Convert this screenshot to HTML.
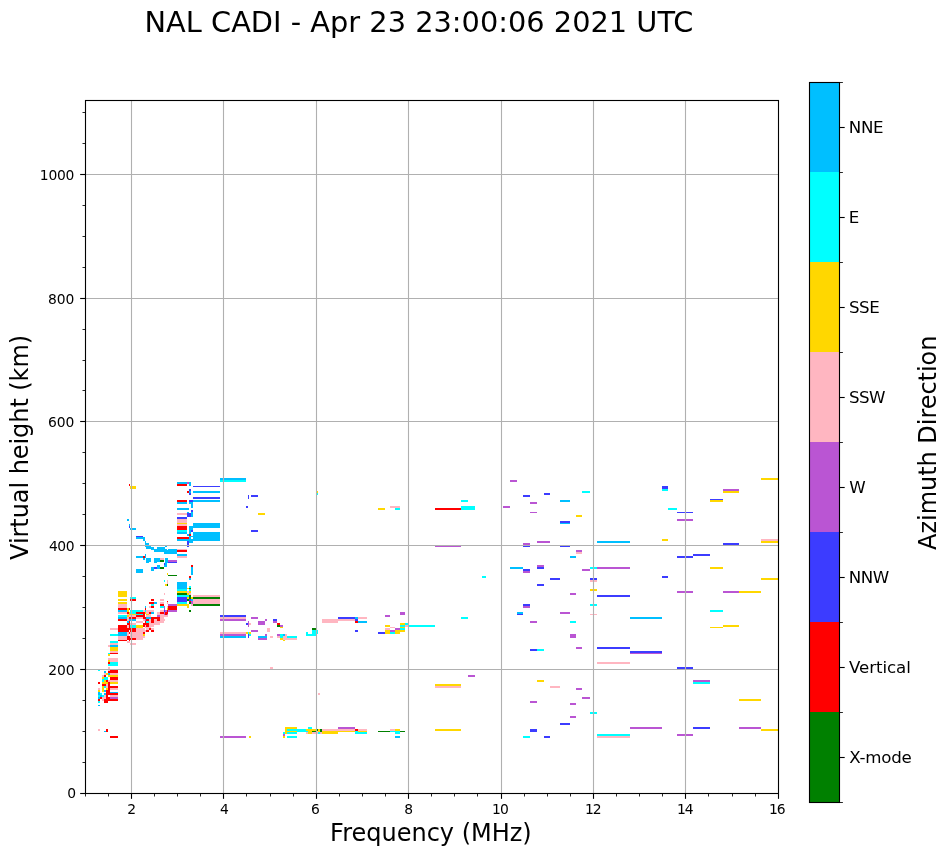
<!DOCTYPE html>
<html lang="en"><head><meta charset="utf-8"><title>NAL CADI - Apr 23 23:00:06 2021 UTC</title>
<style>
html,body{margin:0;padding:0;background:#fff;}
body{width:951px;height:856px;overflow:hidden;}
svg{display:block;}
text{font-family:"DejaVu Sans", "Liberation Sans", sans-serif;fill:#000;}
.tk{font-size:13.889px;}
.cb{font-size:16.667px;}
.lb{font-size:24px;}
.tt{font-size:28.8px;}
</style></head><body>
<svg width="951" height="856" viewBox="0 0 951 856">
<rect x="0" y="0" width="951" height="856" fill="#fff"/>
<g id="data" shape-rendering="crispEdges">
<rect x="98" y="669" width="2" height="2" fill="#00ffff"/>
<rect x="108" y="669" width="2" height="2" fill="#ffb6c1"/>
<rect x="110" y="669" width="8" height="2" fill="#ff0000"/>
<rect x="104" y="671" width="2" height="2" fill="#00bfff"/>
<rect x="108" y="671" width="10" height="2" fill="#ff0000"/>
<rect x="104" y="673" width="2" height="2" fill="#ffb6c1"/>
<rect x="106" y="673" width="2" height="2" fill="#ffd700"/>
<rect x="108" y="673" width="2" height="2" fill="#00bfff"/>
<rect x="110" y="673" width="8" height="2" fill="#ffb6c1"/>
<rect x="102" y="675" width="2" height="2" fill="#ffb6c1"/>
<rect x="104" y="675" width="2" height="2" fill="#ff0000"/>
<rect x="108" y="675" width="10" height="2" fill="#ffd700"/>
<rect x="102" y="677" width="2" height="2" fill="#ffd700"/>
<rect x="104" y="677" width="4" height="2" fill="#00ffff"/>
<rect x="110" y="677" width="8" height="2" fill="#ff0000"/>
<rect x="102" y="679" width="6" height="1" fill="#00ffff"/>
<rect x="110" y="679" width="8" height="1" fill="#ff0000"/>
<rect x="102" y="680" width="2" height="2" fill="#00ffff"/>
<rect x="104" y="680" width="2" height="2" fill="#ffd700"/>
<rect x="106" y="680" width="2" height="2" fill="#ff0000"/>
<rect x="108" y="680" width="10" height="2" fill="#ffb6c1"/>
<rect x="98" y="682" width="2" height="2" fill="#ff0000"/>
<rect x="102" y="682" width="6" height="2" fill="#ffd700"/>
<rect x="108" y="682" width="2" height="2" fill="#ff0000"/>
<rect x="110" y="682" width="8" height="2" fill="#ffd700"/>
<rect x="102" y="684" width="4" height="2" fill="#ff0000"/>
<rect x="106" y="684" width="2" height="2" fill="#ffb6c1"/>
<rect x="108" y="684" width="2" height="2" fill="#ff0000"/>
<rect x="102" y="686" width="2" height="2" fill="#ffd700"/>
<rect x="104" y="686" width="2" height="2" fill="#00ffff"/>
<rect x="106" y="686" width="2" height="2" fill="#ffb6c1"/>
<rect x="108" y="686" width="10" height="2" fill="#ff0000"/>
<rect x="98" y="688" width="2" height="2" fill="#ffb6c1"/>
<rect x="102" y="688" width="2" height="2" fill="#ffd700"/>
<rect x="106" y="688" width="2" height="2" fill="#ffd700"/>
<rect x="108" y="688" width="2" height="2" fill="#ff0000"/>
<rect x="110" y="688" width="8" height="2" fill="#ffb6c1"/>
<rect x="98" y="690" width="2" height="2" fill="#ffd700"/>
<rect x="102" y="690" width="2" height="2" fill="#ffd700"/>
<rect x="104" y="690" width="2" height="2" fill="#00bfff"/>
<rect x="106" y="690" width="4" height="2" fill="#ff0000"/>
<rect x="98" y="692" width="2" height="1" fill="#00bfff"/>
<rect x="106" y="692" width="4" height="1" fill="#ff0000"/>
<rect x="110" y="692" width="8" height="1" fill="#00bfff"/>
<rect x="98" y="693" width="2" height="2" fill="#00bfff"/>
<rect x="100" y="693" width="2" height="2" fill="#00ffff"/>
<rect x="104" y="693" width="2" height="2" fill="#00bfff"/>
<rect x="106" y="693" width="12" height="2" fill="#ff0000"/>
<rect x="98" y="695" width="2" height="2" fill="#00ffff"/>
<rect x="100" y="695" width="2" height="2" fill="#00bfff"/>
<rect x="102" y="695" width="2" height="2" fill="#00ffff"/>
<rect x="104" y="695" width="2" height="2" fill="#ffb6c1"/>
<rect x="106" y="695" width="2" height="2" fill="#ff0000"/>
<rect x="110" y="695" width="8" height="2" fill="#ffb6c1"/>
<rect x="98" y="697" width="2" height="2" fill="#00bfff"/>
<rect x="100" y="697" width="2" height="2" fill="#ff0000"/>
<rect x="102" y="697" width="4" height="2" fill="#ffb6c1"/>
<rect x="106" y="697" width="4" height="2" fill="#ff0000"/>
<rect x="110" y="697" width="8" height="2" fill="#ba55d3"/>
<rect x="98" y="699" width="2" height="2" fill="#ff0000"/>
<rect x="102" y="699" width="2" height="2" fill="#ffb6c1"/>
<rect x="104" y="699" width="14" height="2" fill="#ff0000"/>
<rect x="98" y="701" width="2" height="2" fill="#00ffff"/>
<rect x="104" y="701" width="4" height="2" fill="#ff0000"/>
<rect x="98" y="705" width="2" height="1" fill="#00bfff"/>
<rect x="118" y="632" width="9" height="4" fill="#00bfff"/>
<rect x="110" y="634" width="8" height="2" fill="#00ffff"/>
<rect x="118" y="636" width="9" height="4" fill="#ffb6c1"/>
<rect x="118" y="640" width="9" height="1" fill="#ff0000"/>
<rect x="110" y="641" width="8" height="2" fill="#00ffff"/>
<rect x="110" y="643" width="8" height="2" fill="#ffb6c1"/>
<rect x="108" y="645" width="2" height="2" fill="#ffb6c1"/>
<rect x="110" y="645" width="8" height="2" fill="#00bfff"/>
<rect x="110" y="647" width="8" height="4" fill="#ffd700"/>
<rect x="110" y="651" width="8" height="2" fill="#ffb6c1"/>
<rect x="110" y="653" width="8" height="1" fill="#ff0000"/>
<rect x="108" y="653" width="2" height="1" fill="#00ffff"/>
<rect x="108" y="654" width="2" height="2" fill="#ffd700"/>
<rect x="108" y="658" width="10" height="2" fill="#ffb6c1"/>
<rect x="108" y="660" width="2" height="2" fill="#ffd700"/>
<rect x="110" y="660" width="8" height="2" fill="#ffb6c1"/>
<rect x="108" y="662" width="2" height="2" fill="#ff0000"/>
<rect x="110" y="662" width="8" height="2" fill="#00ffff"/>
<rect x="108" y="664" width="10" height="2" fill="#00ffff"/>
<rect x="108" y="667" width="2" height="2" fill="#ffb6c1"/>
<rect x="118" y="591" width="9" height="6" fill="#ffd700"/>
<rect x="118" y="599" width="9" height="2" fill="#ffd700"/>
<rect x="118" y="602" width="9" height="2" fill="#ffd700"/>
<rect x="118" y="604" width="9" height="4" fill="#ffb6c1"/>
<rect x="118" y="608" width="9" height="2" fill="#ff0000"/>
<rect x="118" y="610" width="9" height="2" fill="#00bfff"/>
<rect x="118" y="612" width="9" height="2" fill="#ffb6c1"/>
<rect x="118" y="615" width="9" height="2" fill="#00ffff"/>
<rect x="118" y="617" width="9" height="2" fill="#00bfff"/>
<rect x="118" y="619" width="9" height="2" fill="#ff0000"/>
<rect x="118" y="625" width="9" height="7" fill="#ff0000"/>
<rect x="110" y="628" width="8" height="2" fill="#ffb6c1"/>
<rect x="130" y="597" width="6" height="2" fill="#00ffff"/>
<rect x="130" y="599" width="6" height="2" fill="#ff0000"/>
<rect x="151" y="599" width="3" height="2" fill="#ff0000"/>
<rect x="149" y="602" width="5" height="2" fill="#ff0000"/>
<rect x="151" y="604" width="3" height="2" fill="#00ffff"/>
<rect x="149" y="606" width="2" height="2" fill="#ffb6c1"/>
<rect x="151" y="606" width="3" height="2" fill="#ff0000"/>
<rect x="145" y="606" width="1" height="2" fill="#00bfff"/>
<rect x="145" y="608" width="1" height="2" fill="#ff0000"/>
<rect x="127" y="608" width="2" height="4" fill="#ffd700"/>
<rect x="129" y="608" width="1" height="2" fill="#ff0000"/>
<rect x="130" y="610" width="13" height="2" fill="#00ffff"/>
<rect x="143" y="610" width="2" height="2" fill="#ffb6c1"/>
<rect x="145" y="610" width="1" height="2" fill="#00ffff"/>
<rect x="146" y="610" width="8" height="2" fill="#ffb6c1"/>
<rect x="127" y="612" width="2" height="2" fill="#ff0000"/>
<rect x="129" y="612" width="1" height="2" fill="#ffd700"/>
<rect x="130" y="612" width="6" height="2" fill="#00ffff"/>
<rect x="136" y="612" width="9" height="2" fill="#ff0000"/>
<rect x="145" y="612" width="1" height="2" fill="#ffd700"/>
<rect x="146" y="612" width="3" height="2" fill="#ffb6c1"/>
<rect x="149" y="612" width="2" height="2" fill="#ff0000"/>
<rect x="151" y="612" width="3" height="2" fill="#00bfff"/>
<rect x="127" y="614" width="2" height="1" fill="#ffb6c1"/>
<rect x="129" y="614" width="7" height="1" fill="#ffd700"/>
<rect x="136" y="614" width="7" height="1" fill="#00ffff"/>
<rect x="143" y="614" width="2" height="1" fill="#ff0000"/>
<rect x="146" y="614" width="3" height="1" fill="#ffd700"/>
<rect x="149" y="614" width="2" height="1" fill="#ffb6c1"/>
<rect x="177" y="582" width="10" height="7" fill="#00bfff"/>
<rect x="177" y="589" width="10" height="2" fill="#00ffff"/>
<rect x="177" y="591" width="10" height="2" fill="#ffd700"/>
<rect x="177" y="593" width="10" height="2" fill="#008000"/>
<rect x="177" y="595" width="10" height="2" fill="#00ffff"/>
<rect x="177" y="597" width="10" height="5" fill="#3c3cff"/>
<rect x="177" y="602" width="10" height="2" fill="#00ffff"/>
<rect x="177" y="604" width="10" height="2" fill="#ffd700"/>
<rect x="164" y="593" width="1" height="2" fill="#ffb6c1"/>
<rect x="160" y="599" width="4" height="2" fill="#ffb6c1"/>
<rect x="167" y="601" width="1" height="1" fill="#ff0000"/>
<rect x="154" y="602" width="3" height="2" fill="#00bfff"/>
<rect x="160" y="602" width="4" height="2" fill="#ffb6c1"/>
<rect x="167" y="602" width="1" height="2" fill="#ffb6c1"/>
<rect x="160" y="604" width="4" height="2" fill="#ff0000"/>
<rect x="168" y="604" width="9" height="2" fill="#ba55d3"/>
<rect x="160" y="606" width="4" height="2" fill="#00ffff"/>
<rect x="164" y="606" width="1" height="4" fill="#ba55d3"/>
<rect x="167" y="606" width="1" height="2" fill="#ffb6c1"/>
<rect x="168" y="606" width="9" height="4" fill="#ff0000"/>
<rect x="167" y="608" width="1" height="2" fill="#ffd700"/>
<rect x="160" y="610" width="4" height="2" fill="#ffb6c1"/>
<rect x="164" y="610" width="1" height="2" fill="#3c3cff"/>
<rect x="165" y="610" width="2" height="2" fill="#ba55d3"/>
<rect x="167" y="610" width="1" height="2" fill="#ff0000"/>
<rect x="168" y="610" width="9" height="2" fill="#ba55d3"/>
<rect x="157" y="612" width="3" height="2" fill="#ffb6c1"/>
<rect x="160" y="612" width="4" height="2" fill="#ff0000"/>
<rect x="164" y="612" width="1" height="3" fill="#ba55d3"/>
<rect x="165" y="612" width="3" height="2" fill="#ff0000"/>
<rect x="157" y="614" width="7" height="1" fill="#ffb6c1"/>
<rect x="165" y="614" width="2" height="1" fill="#ff0000"/>
<rect x="167" y="614" width="1" height="1" fill="#ba55d3"/>
<rect x="127" y="615" width="2" height="2" fill="#ffd700"/>
<rect x="127" y="617" width="2" height="4" fill="#ffb6c1"/>
<rect x="127" y="621" width="2" height="2" fill="#00bfff"/>
<rect x="127" y="623" width="2" height="2" fill="#ff0000"/>
<rect x="127" y="625" width="2" height="3" fill="#ffb6c1"/>
<rect x="127" y="628" width="2" height="4" fill="#ff0000"/>
<rect x="127" y="632" width="2" height="4" fill="#ffb6c1"/>
<rect x="127" y="636" width="2" height="4" fill="#ff0000"/>
<rect x="129" y="615" width="1" height="2" fill="#ffb6c1"/>
<rect x="129" y="617" width="1" height="2" fill="#ff0000"/>
<rect x="129" y="619" width="1" height="2" fill="#00bfff"/>
<rect x="129" y="621" width="1" height="9" fill="#ff0000"/>
<rect x="129" y="632" width="1" height="2" fill="#ff0000"/>
<rect x="129" y="636" width="1" height="5" fill="#ff0000"/>
<rect x="130" y="615" width="6" height="2" fill="#ffb6c1"/>
<rect x="130" y="617" width="6" height="2" fill="#ff0000"/>
<rect x="130" y="619" width="6" height="2" fill="#00bfff"/>
<rect x="130" y="623" width="6" height="2" fill="#ffb6c1"/>
<rect x="130" y="625" width="6" height="3" fill="#00ffff"/>
<rect x="130" y="628" width="6" height="4" fill="#ff0000"/>
<rect x="130" y="632" width="6" height="6" fill="#ffb6c1"/>
<rect x="130" y="638" width="6" height="2" fill="#ff0000"/>
<rect x="136" y="615" width="7" height="2" fill="#ff0000"/>
<rect x="136" y="617" width="7" height="2" fill="#ffb6c1"/>
<rect x="136" y="621" width="7" height="2" fill="#ffb6c1"/>
<rect x="136" y="625" width="7" height="3" fill="#ffd700"/>
<rect x="136" y="628" width="7" height="12" fill="#ffb6c1"/>
<rect x="143" y="615" width="2" height="4" fill="#ff0000"/>
<rect x="143" y="619" width="2" height="2" fill="#ffb6c1"/>
<rect x="143" y="623" width="2" height="4" fill="#ff0000"/>
<rect x="143" y="628" width="2" height="4" fill="#ffb6c1"/>
<rect x="143" y="632" width="2" height="2" fill="#ff0000"/>
<rect x="143" y="634" width="2" height="2" fill="#ffd700"/>
<rect x="143" y="636" width="2" height="2" fill="#ffb6c1"/>
<rect x="145" y="617" width="1" height="2" fill="#ff0000"/>
<rect x="145" y="619" width="1" height="2" fill="#ba55d3"/>
<rect x="145" y="621" width="1" height="4" fill="#ff0000"/>
<rect x="145" y="625" width="1" height="3" fill="#ffb6c1"/>
<rect x="145" y="630" width="1" height="2" fill="#ffb6c1"/>
<rect x="146" y="615" width="3" height="2" fill="#ffb6c1"/>
<rect x="146" y="617" width="3" height="2" fill="#00bfff"/>
<rect x="146" y="619" width="3" height="2" fill="#ff0000"/>
<rect x="146" y="621" width="3" height="2" fill="#00ffff"/>
<rect x="146" y="623" width="3" height="4" fill="#ff0000"/>
<rect x="146" y="627" width="3" height="3" fill="#ffb6c1"/>
<rect x="146" y="630" width="3" height="2" fill="#ff0000"/>
<rect x="149" y="615" width="2" height="2" fill="#ffb6c1"/>
<rect x="149" y="617" width="2" height="2" fill="#00bfff"/>
<rect x="149" y="619" width="2" height="9" fill="#ffb6c1"/>
<rect x="149" y="628" width="2" height="2" fill="#ff0000"/>
<rect x="151" y="617" width="3" height="6" fill="#ff0000"/>
<rect x="151" y="623" width="3" height="4" fill="#ffb6c1"/>
<rect x="151" y="628" width="3" height="2" fill="#ffb6c1"/>
<rect x="151" y="630" width="3" height="2" fill="#ff0000"/>
<rect x="157" y="615" width="3" height="2" fill="#ba55d3"/>
<rect x="160" y="615" width="8" height="2" fill="#ffb6c1"/>
<rect x="154" y="617" width="6" height="2" fill="#ff0000"/>
<rect x="160" y="617" width="4" height="2" fill="#ffb6c1"/>
<rect x="154" y="619" width="3" height="2" fill="#ffb6c1"/>
<rect x="157" y="619" width="3" height="2" fill="#ff0000"/>
<rect x="160" y="619" width="5" height="2" fill="#ffb6c1"/>
<rect x="154" y="621" width="10" height="2" fill="#ffb6c1"/>
<rect x="154" y="623" width="6" height="2" fill="#ffb6c1"/>
<rect x="127" y="641" width="3" height="2" fill="#ffb6c1"/>
<rect x="130" y="643" width="6" height="2" fill="#ffb6c1"/>
<rect x="187" y="588" width="2" height="1" fill="#ffd700"/>
<rect x="187" y="591" width="2" height="2" fill="#ffb6c1"/>
<rect x="187" y="593" width="2" height="2" fill="#ffd700"/>
<rect x="187" y="595" width="2" height="2" fill="#00ffff"/>
<rect x="187" y="597" width="2" height="2" fill="#ffd700"/>
<rect x="187" y="599" width="2" height="2" fill="#008000"/>
<rect x="187" y="604" width="2" height="4" fill="#ffd700"/>
<rect x="189" y="586" width="2" height="2" fill="#00ffff"/>
<rect x="189" y="588" width="2" height="1" fill="#008000"/>
<rect x="189" y="589" width="2" height="2" fill="#00ffff"/>
<rect x="189" y="591" width="2" height="2" fill="#ffd700"/>
<rect x="189" y="593" width="2" height="2" fill="#ffb6c1"/>
<rect x="189" y="595" width="2" height="4" fill="#008000"/>
<rect x="189" y="599" width="2" height="2" fill="#3c3cff"/>
<rect x="189" y="601" width="2" height="1" fill="#ff0000"/>
<rect x="189" y="602" width="2" height="2" fill="#008000"/>
<rect x="189" y="610" width="2" height="2" fill="#008000"/>
<rect x="191" y="597" width="2" height="2" fill="#ffd700"/>
<rect x="191" y="599" width="2" height="2" fill="#00bfff"/>
<rect x="191" y="601" width="2" height="3" fill="#ba55d3"/>
<rect x="191" y="604" width="2" height="2" fill="#ffb6c1"/>
<rect x="193" y="595" width="27" height="2" fill="#ffb6c1"/>
<rect x="193" y="597" width="27" height="2" fill="#008000"/>
<rect x="193" y="599" width="27" height="5" fill="#ffb6c1"/>
<rect x="193" y="604" width="27" height="2" fill="#008000"/>
<rect x="177" y="482" width="10" height="2" fill="#00bfff"/>
<rect x="177" y="484" width="10" height="2" fill="#ff0000"/>
<rect x="187" y="482" width="2" height="2" fill="#ba55d3"/>
<rect x="189" y="482" width="2" height="4" fill="#00bfff"/>
<rect x="193" y="486" width="27" height="1" fill="#3c3cff"/>
<rect x="189" y="489" width="2" height="2" fill="#3c3cff"/>
<rect x="187" y="491" width="2" height="2" fill="#ff0000"/>
<rect x="189" y="491" width="2" height="2" fill="#00bfff"/>
<rect x="193" y="491" width="27" height="2" fill="#00bfff"/>
<rect x="189" y="493" width="2" height="2" fill="#3c3cff"/>
<rect x="193" y="497" width="27" height="2" fill="#3c3cff"/>
<rect x="177" y="500" width="10" height="2" fill="#ff0000"/>
<rect x="189" y="500" width="4" height="2" fill="#3c3cff"/>
<rect x="193" y="500" width="27" height="2" fill="#00bfff"/>
<rect x="177" y="502" width="10" height="2" fill="#00bfff"/>
<rect x="189" y="502" width="4" height="2" fill="#00bfff"/>
<rect x="191" y="504" width="2" height="4" fill="#00bfff"/>
<rect x="177" y="508" width="12" height="2" fill="#00bfff"/>
<rect x="191" y="510" width="2" height="2" fill="#3c3cff"/>
<rect x="187" y="512" width="2" height="1" fill="#00bfff"/>
<rect x="191" y="512" width="2" height="5" fill="#00bfff"/>
<rect x="177" y="513" width="10" height="2" fill="#ffb6c1"/>
<rect x="187" y="513" width="4" height="4" fill="#3c3cff"/>
<rect x="177" y="517" width="10" height="2" fill="#3c3cff"/>
<rect x="177" y="519" width="10" height="4" fill="#ffb6c1"/>
<rect x="177" y="523" width="10" height="1" fill="#ffd700"/>
<rect x="177" y="524" width="10" height="2" fill="#ffb6c1"/>
<rect x="193" y="523" width="27" height="5" fill="#00bfff"/>
<rect x="177" y="526" width="10" height="4" fill="#ff0000"/>
<rect x="177" y="530" width="10" height="2" fill="#00ffff"/>
<rect x="177" y="532" width="10" height="2" fill="#00bfff"/>
<rect x="177" y="537" width="12" height="2" fill="#ff0000"/>
<rect x="177" y="539" width="12" height="2" fill="#00bfff"/>
<rect x="187" y="534" width="2" height="2" fill="#00bfff"/>
<rect x="187" y="541" width="2" height="6" fill="#3c3cff"/>
<rect x="189" y="526" width="2" height="8" fill="#00bfff"/>
<rect x="189" y="534" width="2" height="2" fill="#ff0000"/>
<rect x="189" y="536" width="2" height="7" fill="#00bfff"/>
<rect x="191" y="526" width="2" height="4" fill="#00bfff"/>
<rect x="191" y="530" width="2" height="2" fill="#3c3cff"/>
<rect x="191" y="536" width="2" height="1" fill="#00bfff"/>
<rect x="191" y="539" width="2" height="4" fill="#00bfff"/>
<rect x="193" y="532" width="27" height="9" fill="#00bfff"/>
<rect x="165" y="545" width="2" height="2" fill="#00bfff"/>
<rect x="164" y="547" width="1" height="7" fill="#00bfff"/>
<rect x="165" y="549" width="2" height="5" fill="#00bfff"/>
<rect x="167" y="550" width="1" height="4" fill="#00bfff"/>
<rect x="168" y="549" width="9" height="5" fill="#00bfff"/>
<rect x="177" y="549" width="10" height="1" fill="#ffb6c1"/>
<rect x="177" y="550" width="10" height="2" fill="#ff0000"/>
<rect x="177" y="554" width="10" height="2" fill="#00bfff"/>
<rect x="177" y="556" width="10" height="2" fill="#ffb6c1"/>
<rect x="165" y="558" width="3" height="5" fill="#00bfff"/>
<rect x="164" y="563" width="3" height="4" fill="#00bfff"/>
<rect x="164" y="563" width="1" height="2" fill="#3c3cff"/>
<rect x="168" y="560" width="9" height="2" fill="#ba55d3"/>
<rect x="168" y="562" width="9" height="1" fill="#3c3cff"/>
<rect x="191" y="565" width="2" height="2" fill="#ff0000"/>
<rect x="191" y="567" width="2" height="8" fill="#00bfff"/>
<rect x="189" y="576" width="2" height="2" fill="#ff0000"/>
<rect x="189" y="578" width="2" height="2" fill="#00bfff"/>
<rect x="167" y="573" width="1" height="2" fill="#ffd700"/>
<rect x="168" y="575" width="9" height="1" fill="#008000"/>
<rect x="164" y="580" width="1" height="2" fill="#00ffff"/>
<rect x="167" y="580" width="1" height="2" fill="#ffb6c1"/>
<rect x="129" y="526" width="1" height="2" fill="#3c3cff"/>
<rect x="130" y="528" width="6" height="2" fill="#00bfff"/>
<rect x="136" y="536" width="7" height="1" fill="#3c3cff"/>
<rect x="136" y="537" width="9" height="2" fill="#00bfff"/>
<rect x="143" y="539" width="2" height="2" fill="#00bfff"/>
<rect x="145" y="541" width="1" height="6" fill="#00bfff"/>
<rect x="146" y="543" width="3" height="2" fill="#00bfff"/>
<rect x="146" y="545" width="5" height="2" fill="#00bfff"/>
<rect x="146" y="547" width="8" height="2" fill="#00bfff"/>
<rect x="157" y="547" width="8" height="2" fill="#00bfff"/>
<rect x="151" y="549" width="3" height="1" fill="#00bfff"/>
<rect x="154" y="549" width="10" height="3" fill="#00bfff"/>
<rect x="145" y="554" width="1" height="4" fill="#00bfff"/>
<rect x="136" y="556" width="7" height="2" fill="#00bfff"/>
<rect x="143" y="556" width="2" height="2" fill="#ff0000"/>
<rect x="143" y="558" width="2" height="2" fill="#00bfff"/>
<rect x="146" y="558" width="5" height="4" fill="#00bfff"/>
<rect x="154" y="558" width="6" height="4" fill="#00bfff"/>
<rect x="160" y="558" width="4" height="2" fill="#ffb6c1"/>
<rect x="160" y="560" width="4" height="2" fill="#008000"/>
<rect x="146" y="562" width="3" height="1" fill="#00bfff"/>
<rect x="154" y="562" width="3" height="1" fill="#00bfff"/>
<rect x="157" y="565" width="3" height="4" fill="#00bfff"/>
<rect x="151" y="567" width="3" height="4" fill="#00bfff"/>
<rect x="154" y="567" width="3" height="2" fill="#3c3cff"/>
<rect x="160" y="567" width="4" height="2" fill="#008000"/>
<rect x="136" y="569" width="7" height="4" fill="#00bfff"/>
<rect x="165" y="584" width="2" height="2" fill="#ffd700"/>
<rect x="129" y="484" width="1" height="2" fill="#ff0000"/>
<rect x="130" y="486" width="6" height="3" fill="#ffd700"/>
<rect x="127" y="519" width="2" height="2" fill="#00bfff"/>
<rect x="129" y="524" width="1" height="2" fill="#00bfff"/>
<rect x="220" y="478" width="26" height="2" fill="#00bfff"/>
<rect x="220" y="480" width="26" height="2" fill="#00ffff"/>
<rect x="248" y="495" width="1" height="4" fill="#3c3cff"/>
<rect x="251" y="495" width="7" height="2" fill="#3c3cff"/>
<rect x="246" y="506" width="2" height="2" fill="#3c3cff"/>
<rect x="258" y="513" width="7" height="2" fill="#ffd700"/>
<rect x="251" y="530" width="7" height="2" fill="#3c3cff"/>
<rect x="220" y="615" width="26" height="2" fill="#3c3cff"/>
<rect x="220" y="617" width="26" height="2" fill="#ffb6c1"/>
<rect x="220" y="619" width="26" height="2" fill="#ba55d3"/>
<rect x="251" y="617" width="7" height="2" fill="#ba55d3"/>
<rect x="265" y="619" width="2" height="2" fill="#ba55d3"/>
<rect x="258" y="621" width="7" height="4" fill="#ba55d3"/>
<rect x="246" y="623" width="2" height="2" fill="#3c3cff"/>
<rect x="248" y="621" width="1" height="6" fill="#ba55d3"/>
<rect x="249" y="623" width="2" height="2" fill="#ffb6c1"/>
<rect x="267" y="628" width="3" height="4" fill="#ffb6c1"/>
<rect x="251" y="630" width="7" height="2" fill="#ba55d3"/>
<rect x="220" y="632" width="26" height="2" fill="#ffb6c1"/>
<rect x="246" y="632" width="2" height="2" fill="#ffd700"/>
<rect x="248" y="632" width="1" height="2" fill="#00ffff"/>
<rect x="249" y="632" width="2" height="2" fill="#ffd700"/>
<rect x="220" y="634" width="26" height="2" fill="#ba55d3"/>
<rect x="248" y="634" width="1" height="4" fill="#3c3cff"/>
<rect x="249" y="634" width="2" height="2" fill="#00ffff"/>
<rect x="220" y="636" width="26" height="2" fill="#00bfff"/>
<rect x="265" y="634" width="2" height="2" fill="#ba55d3"/>
<rect x="258" y="636" width="9" height="2" fill="#00bfff"/>
<rect x="258" y="638" width="9" height="2" fill="#ba55d3"/>
<rect x="270" y="636" width="3" height="2" fill="#ffb6c1"/>
<rect x="273" y="619" width="4" height="2" fill="#3c3cff"/>
<rect x="273" y="621" width="4" height="2" fill="#ba55d3"/>
<rect x="277" y="623" width="3" height="2" fill="#ff0000"/>
<rect x="277" y="625" width="3" height="2" fill="#008000"/>
<rect x="280" y="625" width="3" height="2" fill="#ba55d3"/>
<rect x="280" y="627" width="3" height="1" fill="#ffd700"/>
<rect x="277" y="634" width="3" height="2" fill="#ba55d3"/>
<rect x="277" y="636" width="3" height="2" fill="#ffb6c1"/>
<rect x="280" y="634" width="3" height="4" fill="#00ffff"/>
<rect x="280" y="638" width="3" height="2" fill="#ffd700"/>
<rect x="283" y="634" width="2" height="2" fill="#00bfff"/>
<rect x="283" y="636" width="2" height="4" fill="#ffb6c1"/>
<rect x="283" y="640" width="2" height="1" fill="#ffd700"/>
<rect x="285" y="634" width="2" height="6" fill="#ffb6c1"/>
<rect x="287" y="636" width="10" height="2" fill="#00ffff"/>
<rect x="287" y="638" width="10" height="2" fill="#ffb6c1"/>
<rect x="306" y="632" width="2" height="4" fill="#00ffff"/>
<rect x="308" y="634" width="4" height="2" fill="#00ffff"/>
<rect x="312" y="628" width="4" height="2" fill="#008000"/>
<rect x="312" y="630" width="4" height="6" fill="#00ffff"/>
<rect x="316" y="630" width="2" height="4" fill="#00ffff"/>
<rect x="322" y="619" width="16" height="4" fill="#ffb6c1"/>
<rect x="338" y="617" width="17" height="2" fill="#3c3cff"/>
<rect x="338" y="619" width="17" height="2" fill="#ffb6c1"/>
<rect x="355" y="617" width="3" height="2" fill="#00bfff"/>
<rect x="355" y="619" width="3" height="2" fill="#3c3cff"/>
<rect x="355" y="621" width="3" height="2" fill="#ff0000"/>
<rect x="358" y="617" width="9" height="2" fill="#ffb6c1"/>
<rect x="358" y="621" width="9" height="2" fill="#00bfff"/>
<rect x="355" y="630" width="3" height="2" fill="#3c3cff"/>
<rect x="400" y="612" width="5" height="3" fill="#ba55d3"/>
<rect x="385" y="615" width="5" height="2" fill="#ba55d3"/>
<rect x="400" y="623" width="5" height="2" fill="#ffd700"/>
<rect x="405" y="623" width="3" height="2" fill="#00ffff"/>
<rect x="385" y="625" width="5" height="2" fill="#ffd700"/>
<rect x="400" y="625" width="5" height="2" fill="#00ffff"/>
<rect x="405" y="625" width="3" height="2" fill="#ffb6c1"/>
<rect x="390" y="627" width="5" height="1" fill="#ffb6c1"/>
<rect x="400" y="627" width="5" height="1" fill="#ffd700"/>
<rect x="385" y="628" width="5" height="2" fill="#ffb6c1"/>
<rect x="395" y="628" width="5" height="2" fill="#ba55d3"/>
<rect x="400" y="628" width="5" height="2" fill="#00ffff"/>
<rect x="385" y="630" width="5" height="4" fill="#ffd700"/>
<rect x="390" y="630" width="5" height="2" fill="#ba55d3"/>
<rect x="390" y="632" width="5" height="2" fill="#00ffff"/>
<rect x="395" y="630" width="5" height="4" fill="#ffd700"/>
<rect x="400" y="630" width="5" height="2" fill="#ffd700"/>
<rect x="378" y="632" width="7" height="2" fill="#3c3cff"/>
<rect x="409" y="625" width="26" height="2" fill="#00ffff"/>
<rect x="461" y="617" width="7" height="2" fill="#00ffff"/>
<rect x="482" y="576" width="4" height="2" fill="#00ffff"/>
<rect x="316" y="491" width="2" height="2" fill="#ffd700"/>
<rect x="316" y="493" width="2" height="2" fill="#00ffff"/>
<rect x="378" y="508" width="7" height="2" fill="#ffd700"/>
<rect x="390" y="506" width="10" height="2" fill="#ffb6c1"/>
<rect x="395" y="508" width="5" height="2" fill="#00ffff"/>
<rect x="435" y="508" width="26" height="2" fill="#ff0000"/>
<rect x="461" y="500" width="7" height="2" fill="#00ffff"/>
<rect x="461" y="506" width="14" height="4" fill="#00ffff"/>
<rect x="435" y="545" width="26" height="2" fill="#ba55d3"/>
<rect x="510" y="480" width="7" height="2" fill="#ba55d3"/>
<rect x="523" y="495" width="7" height="2" fill="#3c3cff"/>
<rect x="544" y="493" width="6" height="2" fill="#3c3cff"/>
<rect x="530" y="502" width="7" height="2" fill="#ba55d3"/>
<rect x="503" y="506" width="7" height="2" fill="#ba55d3"/>
<rect x="530" y="512" width="7" height="1" fill="#ba55d3"/>
<rect x="560" y="500" width="10" height="2" fill="#00bfff"/>
<rect x="576" y="515" width="6" height="2" fill="#ffd700"/>
<rect x="560" y="521" width="10" height="2" fill="#3c3cff"/>
<rect x="560" y="523" width="10" height="1" fill="#00bfff"/>
<rect x="537" y="541" width="13" height="2" fill="#ba55d3"/>
<rect x="523" y="543" width="7" height="2" fill="#ba55d3"/>
<rect x="523" y="545" width="7" height="2" fill="#3c3cff"/>
<rect x="560" y="545" width="10" height="2" fill="#3c3cff"/>
<rect x="576" y="550" width="6" height="2" fill="#ba55d3"/>
<rect x="576" y="552" width="6" height="2" fill="#ffb6c1"/>
<rect x="582" y="491" width="8" height="2" fill="#00ffff"/>
<rect x="597" y="541" width="33" height="2" fill="#00bfff"/>
<rect x="662" y="486" width="6" height="3" fill="#3c3cff"/>
<rect x="662" y="489" width="6" height="2" fill="#00ffff"/>
<rect x="662" y="539" width="6" height="2" fill="#ffd700"/>
<rect x="668" y="508" width="9" height="2" fill="#00ffff"/>
<rect x="677" y="512" width="16" height="1" fill="#3c3cff"/>
<rect x="677" y="519" width="16" height="2" fill="#ba55d3"/>
<rect x="710" y="499" width="13" height="1" fill="#3c3cff"/>
<rect x="710" y="500" width="13" height="2" fill="#ffd700"/>
<rect x="723" y="489" width="16" height="2" fill="#ba55d3"/>
<rect x="723" y="491" width="16" height="2" fill="#ffd700"/>
<rect x="723" y="543" width="16" height="2" fill="#3c3cff"/>
<rect x="693" y="554" width="17" height="2" fill="#3c3cff"/>
<rect x="761" y="478" width="17" height="2" fill="#ffd700"/>
<rect x="761" y="539" width="17" height="2" fill="#ffb6c1"/>
<rect x="761" y="541" width="17" height="2" fill="#ffd700"/>
<rect x="570" y="556" width="6" height="2" fill="#00bfff"/>
<rect x="510" y="567" width="13" height="2" fill="#00bfff"/>
<rect x="537" y="565" width="7" height="2" fill="#ba55d3"/>
<rect x="537" y="567" width="7" height="2" fill="#3c3cff"/>
<rect x="523" y="569" width="7" height="2" fill="#3c3cff"/>
<rect x="523" y="571" width="7" height="2" fill="#ba55d3"/>
<rect x="550" y="578" width="10" height="2" fill="#3c3cff"/>
<rect x="537" y="584" width="7" height="2" fill="#3c3cff"/>
<rect x="570" y="593" width="6" height="2" fill="#ba55d3"/>
<rect x="523" y="604" width="7" height="2" fill="#3c3cff"/>
<rect x="523" y="606" width="7" height="2" fill="#ba55d3"/>
<rect x="517" y="612" width="6" height="2" fill="#00bfff"/>
<rect x="517" y="614" width="6" height="1" fill="#3c3cff"/>
<rect x="560" y="612" width="10" height="2" fill="#ba55d3"/>
<rect x="530" y="621" width="7" height="2" fill="#ba55d3"/>
<rect x="570" y="621" width="6" height="2" fill="#00ffff"/>
<rect x="570" y="634" width="6" height="4" fill="#ba55d3"/>
<rect x="590" y="567" width="7" height="2" fill="#00ffff"/>
<rect x="597" y="567" width="33" height="2" fill="#ba55d3"/>
<rect x="582" y="569" width="8" height="2" fill="#ba55d3"/>
<rect x="590" y="578" width="7" height="2" fill="#3c3cff"/>
<rect x="590" y="580" width="7" height="2" fill="#ffb6c1"/>
<rect x="662" y="576" width="6" height="2" fill="#3c3cff"/>
<rect x="590" y="589" width="7" height="2" fill="#ffd700"/>
<rect x="597" y="595" width="33" height="2" fill="#3c3cff"/>
<rect x="590" y="604" width="7" height="2" fill="#00ffff"/>
<rect x="590" y="614" width="7" height="1" fill="#ffb6c1"/>
<rect x="630" y="617" width="32" height="2" fill="#00bfff"/>
<rect x="677" y="556" width="16" height="2" fill="#3c3cff"/>
<rect x="710" y="567" width="13" height="2" fill="#ffd700"/>
<rect x="677" y="591" width="16" height="2" fill="#ba55d3"/>
<rect x="723" y="591" width="16" height="2" fill="#ba55d3"/>
<rect x="710" y="610" width="13" height="2" fill="#00ffff"/>
<rect x="710" y="627" width="13" height="1" fill="#ffd700"/>
<rect x="723" y="625" width="16" height="2" fill="#ffd700"/>
<rect x="761" y="578" width="17" height="2" fill="#ffd700"/>
<rect x="739" y="591" width="22" height="2" fill="#ffd700"/>
<rect x="270" y="667" width="3" height="2" fill="#ffb6c1"/>
<rect x="318" y="693" width="2" height="2" fill="#ffb6c1"/>
<rect x="285" y="727" width="12" height="2" fill="#ffd700"/>
<rect x="308" y="727" width="4" height="2" fill="#00ffff"/>
<rect x="285" y="729" width="2" height="5" fill="#ffd700"/>
<rect x="287" y="729" width="19" height="2" fill="#00ffff"/>
<rect x="306" y="729" width="10" height="2" fill="#ffd700"/>
<rect x="287" y="731" width="10" height="1" fill="#ffd700"/>
<rect x="297" y="731" width="11" height="1" fill="#00ffff"/>
<rect x="308" y="731" width="4" height="3" fill="#ffd700"/>
<rect x="312" y="731" width="4" height="1" fill="#008000"/>
<rect x="283" y="732" width="2" height="2" fill="#00ffff"/>
<rect x="287" y="732" width="10" height="2" fill="#00ffff"/>
<rect x="306" y="732" width="2" height="2" fill="#ffb6c1"/>
<rect x="312" y="732" width="6" height="2" fill="#ffb6c1"/>
<rect x="283" y="734" width="2" height="2" fill="#ba55d3"/>
<rect x="283" y="736" width="2" height="2" fill="#ffd700"/>
<rect x="287" y="736" width="10" height="2" fill="#00ffff"/>
<rect x="338" y="727" width="17" height="2" fill="#ba55d3"/>
<rect x="316" y="729" width="2" height="2" fill="#008000"/>
<rect x="318" y="729" width="2" height="3" fill="#ffd700"/>
<rect x="320" y="729" width="2" height="3" fill="#008000"/>
<rect x="322" y="729" width="33" height="2" fill="#ffb6c1"/>
<rect x="355" y="729" width="3" height="2" fill="#ff0000"/>
<rect x="358" y="729" width="9" height="2" fill="#ffb6c1"/>
<rect x="322" y="731" width="33" height="1" fill="#ffd700"/>
<rect x="355" y="731" width="3" height="3" fill="#00ffff"/>
<rect x="358" y="731" width="9" height="1" fill="#ffd700"/>
<rect x="318" y="732" width="2" height="2" fill="#00ffff"/>
<rect x="320" y="732" width="2" height="2" fill="#ffb6c1"/>
<rect x="322" y="732" width="16" height="2" fill="#ffd700"/>
<rect x="358" y="732" width="9" height="2" fill="#00ffff"/>
<rect x="378" y="731" width="12" height="1" fill="#008000"/>
<rect x="390" y="729" width="5" height="2" fill="#ffb6c1"/>
<rect x="390" y="731" width="5" height="1" fill="#00ffff"/>
<rect x="395" y="729" width="5" height="2" fill="#ffd700"/>
<rect x="395" y="731" width="5" height="3" fill="#00ffff"/>
<rect x="400" y="731" width="5" height="1" fill="#008000"/>
<rect x="395" y="736" width="5" height="2" fill="#00bfff"/>
<rect x="98" y="729" width="2" height="2" fill="#ffb6c1"/>
<rect x="104" y="731" width="2" height="1" fill="#00bfff"/>
<rect x="106" y="729" width="2" height="3" fill="#ff0000"/>
<rect x="110" y="736" width="8" height="2" fill="#ff0000"/>
<rect x="220" y="736" width="26" height="2" fill="#ba55d3"/>
<rect x="249" y="736" width="2" height="2" fill="#ffd700"/>
<rect x="468" y="675" width="7" height="2" fill="#ba55d3"/>
<rect x="435" y="684" width="26" height="2" fill="#ffd700"/>
<rect x="435" y="686" width="26" height="2" fill="#ffb6c1"/>
<rect x="435" y="729" width="26" height="2" fill="#ffd700"/>
<rect x="576" y="647" width="6" height="2" fill="#ba55d3"/>
<rect x="530" y="649" width="7" height="2" fill="#3c3cff"/>
<rect x="537" y="649" width="7" height="2" fill="#00ffff"/>
<rect x="537" y="680" width="7" height="2" fill="#ffd700"/>
<rect x="550" y="686" width="10" height="2" fill="#ffb6c1"/>
<rect x="576" y="688" width="6" height="2" fill="#ba55d3"/>
<rect x="582" y="697" width="8" height="2" fill="#ba55d3"/>
<rect x="530" y="701" width="7" height="2" fill="#ba55d3"/>
<rect x="570" y="703" width="6" height="2" fill="#ba55d3"/>
<rect x="570" y="716" width="6" height="2" fill="#ba55d3"/>
<rect x="560" y="723" width="10" height="2" fill="#3c3cff"/>
<rect x="530" y="729" width="7" height="3" fill="#3c3cff"/>
<rect x="523" y="736" width="7" height="2" fill="#00ffff"/>
<rect x="544" y="736" width="6" height="2" fill="#3c3cff"/>
<rect x="597" y="647" width="33" height="2" fill="#3c3cff"/>
<rect x="630" y="651" width="32" height="2" fill="#3c3cff"/>
<rect x="630" y="653" width="32" height="1" fill="#ba55d3"/>
<rect x="597" y="662" width="33" height="2" fill="#ffb6c1"/>
<rect x="590" y="712" width="7" height="2" fill="#00ffff"/>
<rect x="630" y="727" width="32" height="2" fill="#ba55d3"/>
<rect x="597" y="734" width="33" height="2" fill="#00ffff"/>
<rect x="597" y="736" width="33" height="2" fill="#ffb6c1"/>
<rect x="677" y="667" width="16" height="2" fill="#3c3cff"/>
<rect x="693" y="680" width="17" height="2" fill="#ba55d3"/>
<rect x="693" y="682" width="17" height="2" fill="#00ffff"/>
<rect x="739" y="699" width="22" height="2" fill="#ffd700"/>
<rect x="693" y="727" width="17" height="2" fill="#3c3cff"/>
<rect x="677" y="734" width="16" height="2" fill="#ba55d3"/>
<rect x="739" y="727" width="22" height="2" fill="#ba55d3"/>
<rect x="761" y="729" width="17" height="2" fill="#ffd700"/>
<rect x="167" y="582" width="1" height="2" fill="#ffb6c1"/>
<rect x="167" y="584" width="1" height="2" fill="#008000"/>
<rect x="316" y="731" width="2" height="1" fill="#ffb6c1"/>
</g>
<g id="grid" stroke="#b0b0b0" stroke-width="1.111" fill="none">
<line x1="131.50" y1="100.50" x2="131.50" y2="793.50"/>
<line x1="223.50" y1="100.50" x2="223.50" y2="793.50"/>
<line x1="316.50" y1="100.50" x2="316.50" y2="793.50"/>
<line x1="408.50" y1="100.50" x2="408.50" y2="793.50"/>
<line x1="501.50" y1="100.50" x2="501.50" y2="793.50"/>
<line x1="593.50" y1="100.50" x2="593.50" y2="793.50"/>
<line x1="685.50" y1="100.50" x2="685.50" y2="793.50"/>
<line x1="85.50" y1="669.50" x2="778.50" y2="669.50"/>
<line x1="85.50" y1="545.50" x2="778.50" y2="545.50"/>
<line x1="85.50" y1="421.50" x2="778.50" y2="421.50"/>
<line x1="85.50" y1="298.50" x2="778.50" y2="298.50"/>
<line x1="85.50" y1="174.50" x2="778.50" y2="174.50"/>
</g>
<g id="ticks" stroke="#000" fill="none">
<line x1="85.50" y1="793.50" x2="85.50" y2="796.50" stroke-width="0.85"/>
<line x1="108.50" y1="793.50" x2="108.50" y2="796.50" stroke-width="0.85"/>
<line x1="131.50" y1="793.50" x2="131.50" y2="798.85" stroke-width="1.111"/>
<line x1="154.50" y1="793.50" x2="154.50" y2="796.50" stroke-width="0.85"/>
<line x1="177.50" y1="793.50" x2="177.50" y2="796.50" stroke-width="0.85"/>
<line x1="200.50" y1="793.50" x2="200.50" y2="796.50" stroke-width="0.85"/>
<line x1="223.50" y1="793.50" x2="223.50" y2="798.85" stroke-width="1.111"/>
<line x1="246.50" y1="793.50" x2="246.50" y2="796.50" stroke-width="0.85"/>
<line x1="270.50" y1="793.50" x2="270.50" y2="796.50" stroke-width="0.85"/>
<line x1="293.50" y1="793.50" x2="293.50" y2="796.50" stroke-width="0.85"/>
<line x1="316.50" y1="793.50" x2="316.50" y2="798.85" stroke-width="1.111"/>
<line x1="339.50" y1="793.50" x2="339.50" y2="796.50" stroke-width="0.85"/>
<line x1="362.50" y1="793.50" x2="362.50" y2="796.50" stroke-width="0.85"/>
<line x1="385.50" y1="793.50" x2="385.50" y2="796.50" stroke-width="0.85"/>
<line x1="408.50" y1="793.50" x2="408.50" y2="798.85" stroke-width="1.111"/>
<line x1="431.50" y1="793.50" x2="431.50" y2="796.50" stroke-width="0.85"/>
<line x1="454.50" y1="793.50" x2="454.50" y2="796.50" stroke-width="0.85"/>
<line x1="477.50" y1="793.50" x2="477.50" y2="796.50" stroke-width="0.85"/>
<line x1="501.50" y1="793.50" x2="501.50" y2="798.85" stroke-width="1.111"/>
<line x1="524.50" y1="793.50" x2="524.50" y2="796.50" stroke-width="0.85"/>
<line x1="547.50" y1="793.50" x2="547.50" y2="796.50" stroke-width="0.85"/>
<line x1="570.50" y1="793.50" x2="570.50" y2="796.50" stroke-width="0.85"/>
<line x1="593.50" y1="793.50" x2="593.50" y2="798.85" stroke-width="1.111"/>
<line x1="616.50" y1="793.50" x2="616.50" y2="796.50" stroke-width="0.85"/>
<line x1="639.50" y1="793.50" x2="639.50" y2="796.50" stroke-width="0.85"/>
<line x1="662.50" y1="793.50" x2="662.50" y2="796.50" stroke-width="0.85"/>
<line x1="685.50" y1="793.50" x2="685.50" y2="798.85" stroke-width="1.111"/>
<line x1="708.50" y1="793.50" x2="708.50" y2="796.50" stroke-width="0.85"/>
<line x1="732.50" y1="793.50" x2="732.50" y2="796.50" stroke-width="0.85"/>
<line x1="755.50" y1="793.50" x2="755.50" y2="796.50" stroke-width="0.85"/>
<line x1="778.50" y1="793.50" x2="778.50" y2="798.85" stroke-width="1.111"/>
<line x1="80.15" y1="793.50" x2="85.50" y2="793.50" stroke-width="1.111"/>
<line x1="82.50" y1="762.50" x2="85.50" y2="762.50" stroke-width="0.85"/>
<line x1="82.50" y1="731.50" x2="85.50" y2="731.50" stroke-width="0.85"/>
<line x1="82.50" y1="700.50" x2="85.50" y2="700.50" stroke-width="0.85"/>
<line x1="80.15" y1="669.50" x2="85.50" y2="669.50" stroke-width="1.111"/>
<line x1="82.50" y1="638.50" x2="85.50" y2="638.50" stroke-width="0.85"/>
<line x1="82.50" y1="607.50" x2="85.50" y2="607.50" stroke-width="0.85"/>
<line x1="82.50" y1="576.50" x2="85.50" y2="576.50" stroke-width="0.85"/>
<line x1="80.15" y1="545.50" x2="85.50" y2="545.50" stroke-width="1.111"/>
<line x1="82.50" y1="514.50" x2="85.50" y2="514.50" stroke-width="0.85"/>
<line x1="82.50" y1="483.50" x2="85.50" y2="483.50" stroke-width="0.85"/>
<line x1="82.50" y1="452.50" x2="85.50" y2="452.50" stroke-width="0.85"/>
<line x1="80.15" y1="421.50" x2="85.50" y2="421.50" stroke-width="1.111"/>
<line x1="82.50" y1="390.50" x2="85.50" y2="390.50" stroke-width="0.85"/>
<line x1="82.50" y1="360.50" x2="85.50" y2="360.50" stroke-width="0.85"/>
<line x1="82.50" y1="329.50" x2="85.50" y2="329.50" stroke-width="0.85"/>
<line x1="80.15" y1="298.50" x2="85.50" y2="298.50" stroke-width="1.111"/>
<line x1="82.50" y1="267.50" x2="85.50" y2="267.50" stroke-width="0.85"/>
<line x1="82.50" y1="236.50" x2="85.50" y2="236.50" stroke-width="0.85"/>
<line x1="82.50" y1="205.50" x2="85.50" y2="205.50" stroke-width="0.85"/>
<line x1="80.15" y1="174.50" x2="85.50" y2="174.50" stroke-width="1.111"/>
<line x1="82.50" y1="143.50" x2="85.50" y2="143.50" stroke-width="0.85"/>
<line x1="82.50" y1="112.50" x2="85.50" y2="112.50" stroke-width="0.85"/>
</g>
<rect x="85.50" y="100.50" width="693.00" height="693.00" fill="none" stroke="#000" stroke-width="1.111" stroke-linejoin="miter"/>
<g class="tk">
<text x="127.24" y="813.60" style="letter-spacing:0.000px">2</text>
<text x="220.12" y="813.60" style="letter-spacing:0.000px">4</text>
<text x="311.06" y="813.60" style="letter-spacing:0.000px">6</text>
<text x="404.23" y="813.60" style="letter-spacing:0.000px">8</text>
<text x="491.96" y="813.60" style="letter-spacing:-0.788px">10</text>
<text x="584.97" y="813.60" style="letter-spacing:-1.003px">12</text>
<text x="676.97" y="813.60" style="letter-spacing:-1.088px">14</text>
<text x="768.96" y="813.60" style="letter-spacing:-0.983px">16</text>
<text x="67.13" y="797.56" style="letter-spacing:0.000px">0</text>
<text x="48.13" y="674.56" style="letter-spacing:-0.077px">200</text>
<text x="49.11" y="550.56" style="letter-spacing:-0.568px">400</text>
<text x="48.10" y="426.56" style="letter-spacing:-0.066px">600</text>
<text x="48.07" y="303.56" style="letter-spacing:-0.053px">800</text>
<text x="39.84" y="179.56" style="letter-spacing:-0.253px">1000</text>
</g>
<text class="lb" x="330.10" y="840.70" style="letter-spacing:-0.006px">Frequency (MHz)</text>
<text class="lb" transform="translate(28.00,559.88) rotate(-90)" style="letter-spacing:-0.068px">Virtual height (km)</text>
<text class="tt" x="144.51" y="31.60" style="letter-spacing:0.017px">NAL CADI - Apr 23 23:00:06 2021 UTC</text>
<g id="cbar" shape-rendering="crispEdges">
<rect x="809.00" y="82.00" width="31.00" height="90.00" fill="#00bfff"/>
<rect x="809.00" y="172.00" width="31.00" height="90.00" fill="#00ffff"/>
<rect x="809.00" y="262.00" width="31.00" height="90.00" fill="#ffd700"/>
<rect x="809.00" y="352.00" width="31.00" height="90.00" fill="#ffb6c1"/>
<rect x="809.00" y="442.00" width="31.00" height="90.00" fill="#ba55d3"/>
<rect x="809.00" y="532.00" width="31.00" height="90.00" fill="#3c3cff"/>
<rect x="809.00" y="622.00" width="31.00" height="90.00" fill="#ff0000"/>
<rect x="809.00" y="712.00" width="31.00" height="91.00" fill="#008000"/>
</g>
<rect x="809.50" y="82.50" width="30.00" height="720.00" fill="none" stroke="#000" stroke-width="1.111"/>
<g stroke="#000" fill="none">
<line x1="839.50" y1="82.50" x2="842.90" y2="82.50" stroke-width="0.85"/>
<line x1="839.50" y1="172.50" x2="842.90" y2="172.50" stroke-width="0.85"/>
<line x1="839.50" y1="262.50" x2="842.90" y2="262.50" stroke-width="0.85"/>
<line x1="839.50" y1="352.50" x2="842.90" y2="352.50" stroke-width="0.85"/>
<line x1="839.50" y1="442.50" x2="842.90" y2="442.50" stroke-width="0.85"/>
<line x1="839.50" y1="532.50" x2="842.90" y2="532.50" stroke-width="0.85"/>
<line x1="839.50" y1="622.50" x2="842.90" y2="622.50" stroke-width="0.85"/>
<line x1="839.50" y1="712.50" x2="842.90" y2="712.50" stroke-width="0.85"/>
<line x1="839.50" y1="802.50" x2="842.90" y2="802.50" stroke-width="0.85"/>
<line x1="839.50" y1="127.50" x2="844.70" y2="127.50" stroke-width="1.111"/>
<line x1="839.50" y1="217.50" x2="844.70" y2="217.50" stroke-width="1.111"/>
<line x1="839.50" y1="307.50" x2="844.70" y2="307.50" stroke-width="1.111"/>
<line x1="839.50" y1="397.50" x2="844.70" y2="397.50" stroke-width="1.111"/>
<line x1="839.50" y1="487.50" x2="844.70" y2="487.50" stroke-width="1.111"/>
<line x1="839.50" y1="577.50" x2="844.70" y2="577.50" stroke-width="1.111"/>
<line x1="839.50" y1="667.50" x2="844.70" y2="667.50" stroke-width="1.111"/>
<line x1="839.50" y1="757.50" x2="844.70" y2="757.50" stroke-width="1.111"/>
</g>
<g class="cb">
<text x="848.87" y="132.50" style="letter-spacing:-0.419px">NNE</text>
<text x="848.87" y="222.50" style="letter-spacing:0.000px">E</text>
<text x="848.93" y="312.50" style="letter-spacing:-0.412px">SSE</text>
<text x="848.93" y="402.50" style="letter-spacing:-0.481px">SSW</text>
<text x="849.16" y="492.50" style="letter-spacing:0.000px">W</text>
<text x="848.87" y="582.50" style="letter-spacing:-0.479px">NNW</text>
<text x="849.09" y="672.50" style="letter-spacing:-0.087px">Vertical</text>
<text x="849.25" y="762.50" style="letter-spacing:-0.281px">X-mode</text>
</g>
<text class="lb" transform="translate(936.00,549.88) rotate(-90)" style="letter-spacing:-0.040px">Azimuth Direction</text>
</svg>
</body></html>
